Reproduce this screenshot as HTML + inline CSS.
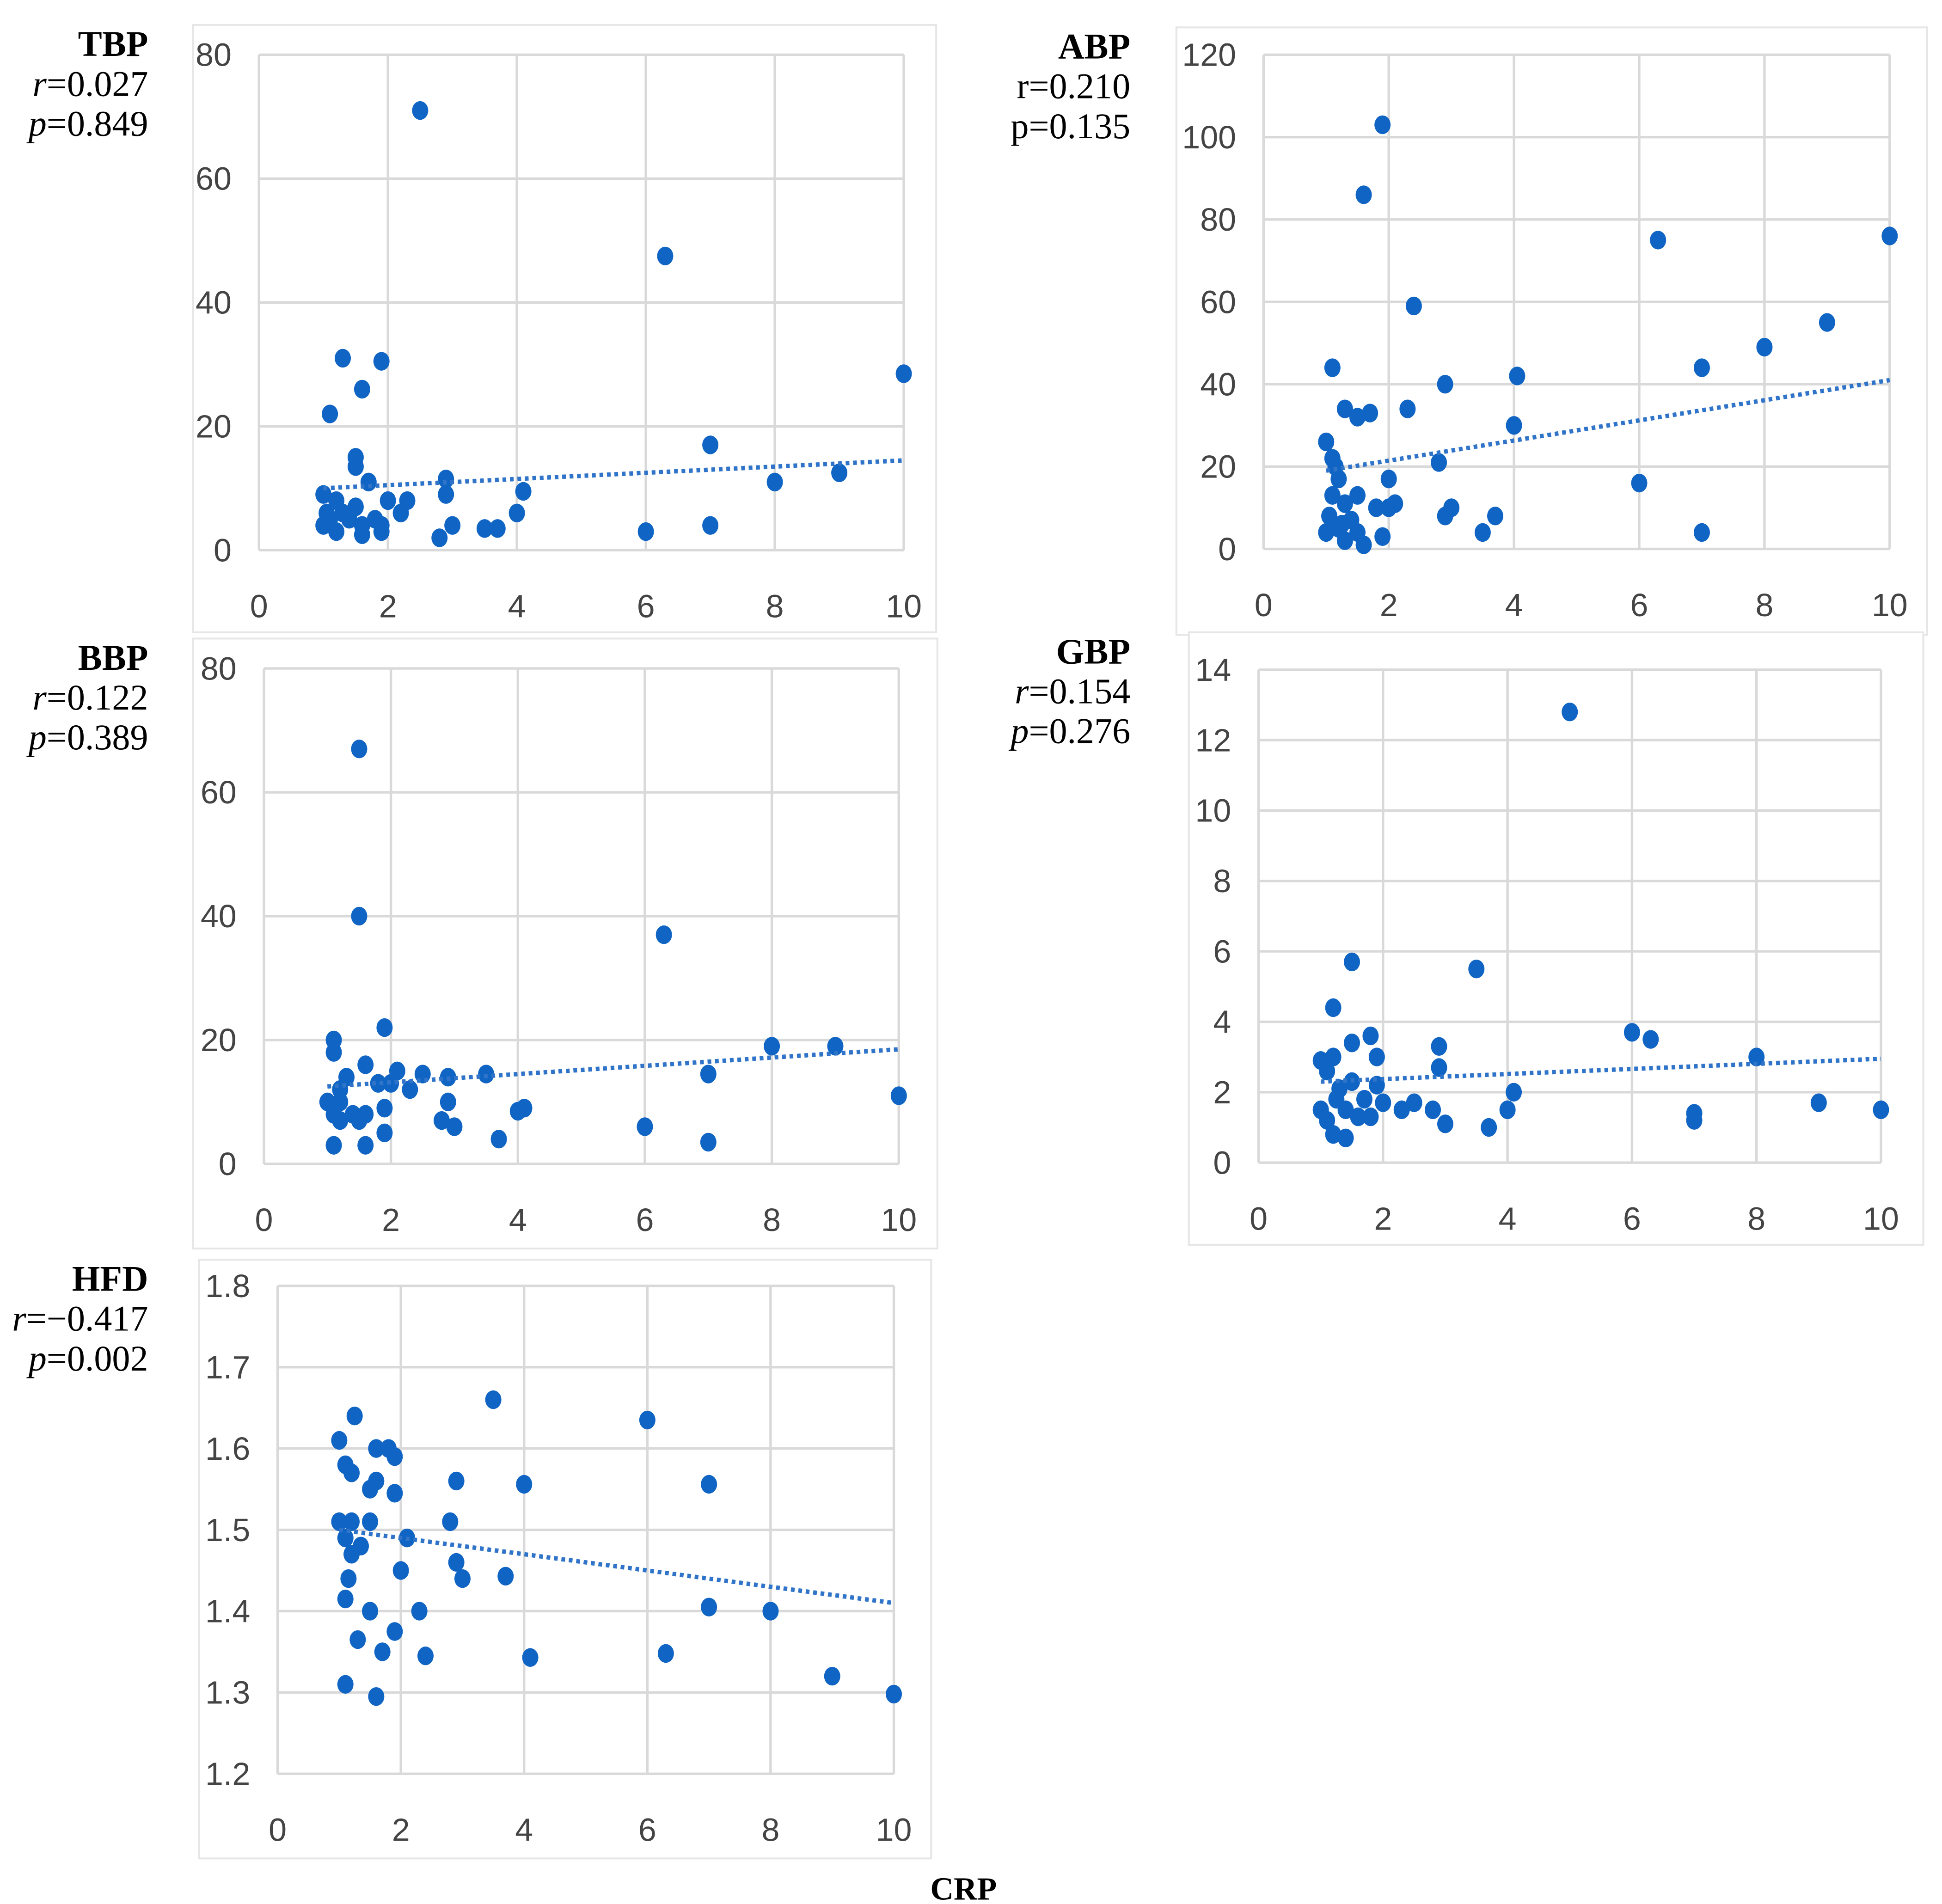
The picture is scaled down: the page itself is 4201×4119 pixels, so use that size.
<!DOCTYPE html>
<html><head><meta charset="utf-8">
<style>
html,body{margin:0;padding:0;background:#fff;}
svg{display:block;}
</style></head>
<body>
<svg id="fig" width="4201" height="4119" viewBox="0 0 1560 1529.6" xmlns="http://www.w3.org/2000/svg">
<rect x="0" y="0" width="1560" height="1530" fill="#fff"/>
<text x="774" y="1526" text-anchor="middle" font-family="Liberation Serif, serif" font-weight="bold" font-size="26" fill="#000">CRP</text>
</svg>
<script>
const tbpX=[2.5,6.3,1.3,1.9,1.6,1.1,10,7,1.5,1.5,1.7,2.9,2.9,4.1,1.0,1.2,1.5,2,2.3,2.2,4,8,9,1.0,1.1,1.2,1.4,1.6,1.6,1.9,1.9,2.8,3,3.5,3.7,6,7,1.3,1.8,1.05];
const tbpY=[71,47.5,31,30.5,26,22,28.5,17,15,13.5,11,11.5,9,9.5,9,8,7,8,8,6,6,11,12.5,4,5,3,5,4,2.5,4,3,2,4,3.5,3.5,3,4,6,5,6];
const abpX=[1.9,1.6,6.3,10,2.4,9,8,7,1.1,2.9,4.05,1.3,1.5,1.7,2.3,4,1.0,1.1,1.15,2.8,1.2,2,6,1.1,1.5,1.3,1.8,2,2.1,3.0,2.9,3.7,1.0,1.2,1.3,1.5,1.6,1.9,3.5,7,1.05,1.25,1.4];
const abpY=[103,86,75,76,59,55,49,44,44,40,42,34,32,33,34,30,26,22,20,21,17,17,16,13,13,11,10,10,11,10,8,8,4,5,2,4,1,3,4,4,8,6,7];
const bbpX=[1.5,1.5,6.3,1.9,1.1,1.1,8,9,1.6,2.1,2.5,2.9,3.5,7,1.3,1.2,1.8,2,2.3,10,1.0,1.1,1.4,1.6,1.9,2.9,2.8,3,4,4.1,6,1.2,1.5,1.9,1.1,1.6,3.7,7,1.2];
const bbpY=[67,40,37,22,20,18,19,19,16,15,14.5,14,14.5,14.5,14,12,13,13,12,11,10,8,8,8,9,10,7,6,8.5,9,6,7,7,5,3,3,4,3.5,10];
const gbpX=[5,1.5,3.5,1.2,6,6.3,1.8,1.5,2.9,1.9,8,1.0,1.2,1.1,2.9,1.5,1.9,4.1,1.3,1.7,2.0,2.5,2.3,1.0,1.4,1.6,1.8,2.8,9,10,4,7,7,1.2,1.4,3,3.7,1.1,1.25];
const gbpY=[12.8,5.7,5.5,4.4,3.7,3.5,3.6,3.4,3.3,3.0,3.0,2.9,3.0,2.6,2.7,2.3,2.2,2.0,2.1,1.8,1.7,1.7,1.5,1.5,1.5,1.3,1.3,1.5,1.7,1.5,1.5,1.4,1.2,0.8,0.7,1.1,1.0,1.2,1.8];
const hfdX=[3.5,1.25,6,1.0,1.6,1.8,1.9,1.1,1.2,1.6,2.9,4,7,1.5,1.9,1.0,1.2,1.5,2.8,1.1,1.35,2.1,1.2,2.9,2.0,1.15,3.0,3.7,1.1,7,8,1.5,2.3,1.9,1.3,1.7,2.4,4.1,6.3,9,1.1,1.6,10];
const hfdY=[1.66,1.64,1.635,1.61,1.6,1.6,1.59,1.58,1.57,1.56,1.56,1.556,1.556,1.55,1.545,1.51,1.51,1.51,1.51,1.49,1.48,1.49,1.47,1.46,1.45,1.44,1.44,1.443,1.415,1.405,1.4,1.4,1.4,1.375,1.365,1.35,1.345,1.343,1.348,1.32,1.31,1.295,1.298];
const xTicks=[0,2,4,6,8,10];
const tbpTicks=[0,20,40,60,80];
const abpTicks=[0,20,40,60,80,100,120];
const bbpTicks=[0,20,40,60,80];
const gbpTicks=[0,2,4,6,8,10,12,14];
const hfdTicks=[1.2,1.3,1.4,1.5,1.6,1.7,1.8];
const tbpTrend=[10,14.5];
const abpTrend=[19,41];
const bbpTrend=[12.5,18.5];
const gbpTrend=[2.3,2.95];
const hfdTrend=[1.5,1.41];

const NS="http://www.w3.org/2000/svg";
const svg=document.getElementById('fig');
function mk(tag,attrs,parent){const e=document.createElementNS(NS,tag);for(const k in attrs)e.setAttribute(k,attrs[k]);(parent||svg).appendChild(e);return e;}

function panel(p){
  const g=mk('g',{});
  
  
  const bx=mk('rect',{x:p.box[0],y:p.box[1],width:p.box[2]-p.box[0],height:p.box[3]-p.box[1],fill:'#fff',stroke:'#e6e6e6','stroke-width':1.5},g);
  
  
  const ymin=p.ticks[0],ymax=p.ticks[p.ticks.length-1];
  const sx=v=>p.x0+(v-0)/10*(p.x1-p.x0);
  const sy=v=>p.y0+(v-ymin)/(ymax-ymin)*(p.y1-p.y0);
  xTicks.forEach(t=>{
    const l=mk('line',{x1:sx(t),x2:sx(t),y1:p.y0,y2:p.y1,stroke:'#d9d9d9','stroke-width':2},g);
    
    
    const tx=mk('text',{x:sx(t),y:p.y0+54,'text-anchor':'middle','font-family':'Liberation Sans, sans-serif','font-size':26,fill:'#444'},g);
    tx.textContent=t;
    
    
  });
  p.ticks.forEach(t=>{
    const l=mk('line',{x1:p.x0,x2:p.x1,y1:sy(t),y2:sy(t),stroke:'#d9d9d9','stroke-width':2},g);
    
    
    const tx=mk('text',{x:p.x0-22,y:sy(t)+9,'text-anchor':'end','font-family':'Liberation Sans, sans-serif','font-size':26,fill:'#444'},g);
    tx.textContent=t;
    
    
  });
  p.xs.forEach((xv,i)=>{
    const c=mk('ellipse',{cx:sx(xv),cy:sy(p.ys[i]),rx:6.5,ry:7.5,fill:'#0f64c4'},g);
    
    
  });
  const tl=mk('line',{x1:sx(1),y1:sy(p.trend[0]),x2:sx(10),y2:sy(p.trend[1]),stroke:'#2f74c8','stroke-width':3.5,'stroke-dasharray':'3 3'},g);
  
  
  const lines=p.label;
  lines.forEach((ln,i)=>{
    const t=mk('text',{x:p.lx,y:p.box[1]+25+i*32,'text-anchor':'end','font-family':'Liberation Serif, serif','font-size':29,fill:'#000','font-weight':i==0?'bold':'normal'},g);
    if(i==0){t.textContent=ln;}
    else{
      const ts=mk('tspan',{'font-style':p.italic?'italic':'normal'},t);ts.textContent=ln[0];
      const ts2=mk('tspan',{},t);ts2.textContent=ln[1];
    }
    
    
  });
}
panel({name:'tbp',box:[155,20,752,508],x0:208,x1:726,y0:442,y1:44,ticks:tbpTicks,xs:tbpX,ys:tbpY,trend:tbpTrend,lx:119,italic:true,label:['TBP',['r','=0.027'],['p','=0.849']]});
panel({name:'abp',box:[945,22,1548,510],x0:1015,x1:1518,y0:441,y1:44,ticks:abpTicks,xs:abpX,ys:abpY,trend:abpTrend,lx:908,italic:false,label:['ABP',['r','=0.210'],['p','=0.135']]});
panel({name:'bbp',box:[155,513,753,1003],x0:212,x1:722,y0:935,y1:537,ticks:bbpTicks,xs:bbpX,ys:bbpY,trend:bbpTrend,lx:119,italic:true,label:['BBP',['r','=0.122'],['p','=0.389']]});
panel({name:'gbp',box:[955,508,1545,1000],x0:1011,x1:1511,y0:934,y1:538,ticks:gbpTicks,xs:gbpX,ys:gbpY,trend:gbpTrend,lx:908,italic:true,label:['GBP',['r','=0.154'],['p','=0.276']]});
panel({name:'hfd',box:[160,1012,748,1493],x0:223,x1:718,y0:1425,y1:1033,ticks:hfdTicks,xs:hfdX,ys:hfdY,trend:hfdTrend,lx:119,italic:true,label:['HFD',['r','=\u22120.417'],['p','=0.002']]});
</script>
</body></html>
